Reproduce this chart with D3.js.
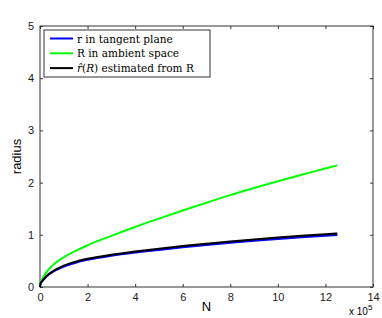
<!DOCTYPE html>
<html>
<head>
<meta charset="utf-8">
<script src="https://cdn.jsdelivr.net/npm/d3@7"></script>
<style>
  body { margin: 0; background: #fff; }
  svg { display: block; }
</style>
</head>
<body>
<div id="chart"></div>
<script>
// N in units of 1e5
const nValues = [0, 0.02, 0.1, 0.25, 0.5, 1, 1.5, 2, 3, 4, 5, 6, 7, 8, 9, 10, 11, 12, 12.5];
const rTangent = [0, 0.05, 0.11, 0.19, 0.28, 0.39, 0.465, 0.52, 0.60, 0.66, 0.71, 0.76, 0.805, 0.846, 0.884, 0.919, 0.952, 0.982, 0.996];
const rAmbient = [0, 0.07, 0.15, 0.27, 0.40, 0.57, 0.69, 0.80, 0.98, 1.15, 1.31, 1.465, 1.615, 1.76, 1.895, 2.025, 2.15, 2.27, 2.33];
const rEstimated = [0, 0.06, 0.12, 0.20, 0.29, 0.41, 0.485, 0.54, 0.62, 0.68, 0.735, 0.785, 0.83, 0.872, 0.911, 0.947, 0.981, 1.011, 1.025];
const xTicks = [0, 2, 4, 6, 8, 10, 12, 14];
const yTicks = [0, 1, 2, 3, 4, 5];

const width = 382, height = 318;
const margin = {top: 26, right: 9, bottom: 31, left: 40};
const innerWidth = width - margin.left - margin.right;
const innerHeight = height - margin.top - margin.bottom;

const svg = d3.select("#chart")
    .append("svg")
    .attr("width", width)
    .attr("height", height)
    .style("font-family", "Liberation Sans, Arial, sans-serif");

const g = svg.append("g")
    .attr("transform", `translate(${margin.left},${margin.top})`);

const x = d3.scaleLinear().domain([0, 14]).range([0, innerWidth]);
const y = d3.scaleLinear().domain([0, 5]).range([innerHeight, 0]);

// axes, matlab style: ticks inside, box all round
const tick = 3;
g.append("g")
    .attr("transform", `translate(0,${innerHeight})`)
    .call(d3.axisBottom(x).tickValues(xTicks).tickFormat(d3.format("d")).tickSizeInner(-tick).tickSizeOuter(0).tickPadding(6))
    .call(a => a.select(".domain").remove());
g.append("g")
    .call(d3.axisTop(x).tickValues(xTicks).tickSizeInner(-tick).tickSizeOuter(0))
    .call(a => a.select(".domain").remove())
    .call(a => a.selectAll("text").remove());
g.append("g")
    .call(d3.axisLeft(y).tickValues(yTicks).tickFormat(d3.format("d")).tickSizeInner(-tick).tickSizeOuter(0).tickPadding(6))
    .call(a => a.select(".domain").remove());
g.append("g")
    .attr("transform", `translate(${innerWidth},0)`)
    .call(d3.axisRight(y).tickValues(yTicks).tickSizeInner(-tick).tickSizeOuter(0))
    .call(a => a.select(".domain").remove())
    .call(a => a.selectAll("text").remove());

g.selectAll(".tick line").attr("stroke", "#333");
g.selectAll(".tick text").style("font-size", "11px").attr("fill", "#222");

g.append("rect")
    .attr("width", innerWidth)
    .attr("height", innerHeight)
    .attr("fill", "none")
    .attr("stroke", "#333")
    .attr("stroke-width", 1);

// curves
const series = [
    {name: "tangent", values: rTangent, color: "#0000ff"},
    {name: "ambient", values: rAmbient, color: "#00ff00"},
    {name: "estimated", values: rEstimated, color: "#000000"}
];

const line = d3.line()
    .x((d, i) => x(nValues[i]))
    .y(d => y(d))
    .curve(d3.curveMonotoneX);

g.selectAll(".curve")
    .data(series)
    .join("path")
    .attr("class", "curve")
    .attr("d", d => line(d.values))
    .attr("fill", "none")
    .attr("stroke", d => d.color)
    .attr("stroke-width", 2);

// labels
svg.append("text")
    .attr("x", margin.left + innerWidth / 2)
    .attr("y", 311)
    .attr("text-anchor", "middle")
    .style("font-size", "13px")
    .text("N");

svg.append("text")
    .attr("transform", `translate(21,${margin.top + innerHeight / 2}) rotate(-90)`)
    .attr("text-anchor", "middle")
    .style("font-size", "13px")
    .text("radius");

const mult = svg.append("text")
    .attr("x", 349)
    .attr("y", 315)
    .style("font-size", "10px");
mult.append("tspan").text("x 10");
mult.append("tspan").attr("dy", -5).style("font-size", "8px").text("5");

// legend
const legend = svg.append("g").attr("transform", "translate(44,30)");
legend.append("rect")
    .attr("width", 166)
    .attr("height", 47)
    .attr("fill", "#fff")
    .attr("stroke", "#333")
    .attr("stroke-width", 1);

const rows = legend.selectAll(".row")
    .data(series)
    .join("g")
    .attr("class", "row")
    .attr("transform", (d, i) => `translate(0,${8.5 + i * 14.8})`);

rows.append("line")
    .attr("x1", 6).attr("x2", 29)
    .attr("stroke", d => d.color)
    .attr("stroke-width", 2);

const labelText = rows.append("text")
    .attr("x", 33)
    .attr("y", 4)
    .style("font-family", "DejaVu Serif, Liberation Serif, serif")
    .style("font-size", "10.5px");

labelText.filter(d => d.name === "tangent").text("r in tangent plane");
labelText.filter(d => d.name === "ambient").text("R in ambient space");
labelText.filter(d => d.name === "estimated").each(function() {
    const t = d3.select(this);
    t.append("tspan").style("font-style", "italic").text("r\u0302");
    t.append("tspan").text("(");
    t.append("tspan").style("font-style", "italic").text("R");
    t.append("tspan").text(") estimated from R");
});
</script>
</body>
</html>
